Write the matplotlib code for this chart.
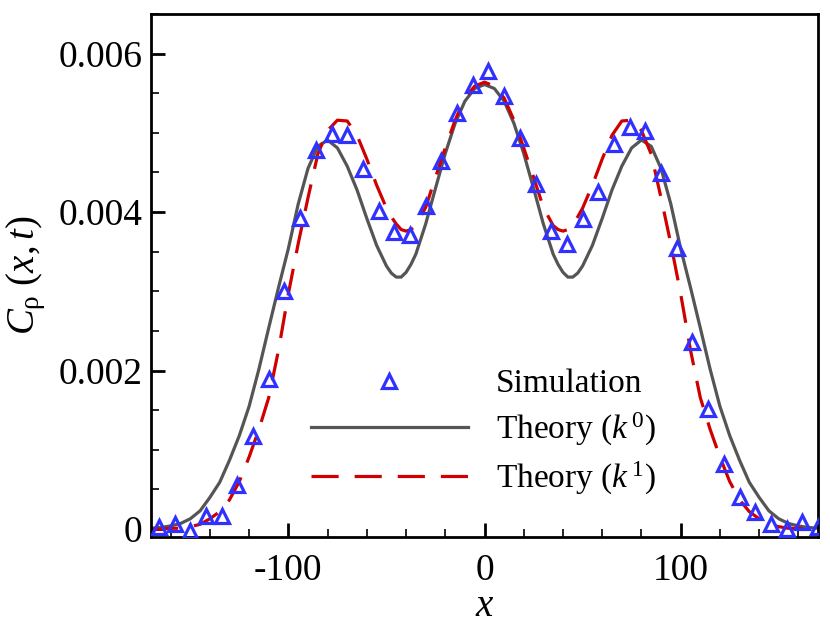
import matplotlib
matplotlib.use('Agg')
import matplotlib.pyplot as plt
from matplotlib.ticker import MultipleLocator

plt.rcParams['font.family'] = ['Liberation Serif', 'DejaVu Serif']
plt.rcParams['mathtext.fontset'] = 'custom'
plt.rcParams['mathtext.rm'] = 'Liberation Serif'
plt.rcParams['mathtext.it'] = 'Liberation Serif:italic'

# theory curves, read every 5 units of x (finer around the minima)
x_theory = [-170, -165, -160, -155, -150, -145, -140, -135, -130, -125, -120,
            -115, -110, -105, -100, -95, -90, -85, -80, -75, -70, -65, -60, -55,
            -50, -47.5, -45, -42.5, -40, -37.5, -35, -30, -25, -20, -15, -10, -5,
            0, 5, 10, 15, 20, 25, 30, 35, 37.5, 40, 42.5, 45, 47.5, 50, 55, 60,
            65, 70, 75, 80, 85, 90, 95, 100, 105, 110, 115, 120, 125, 130, 135,
            140, 145, 150, 155, 160, 165, 170]
c_k0 = [0.00001, 0.00002, 0.00004, 0.00007, 0.00013, 0.00023, 0.00040, 0.00059,
        0.00087, 0.00118, 0.00155, 0.00202, 0.00254, 0.00305, 0.00354, 0.00410,
        0.00455, 0.00483, 0.00491, 0.00481, 0.00458, 0.00428, 0.00392, 0.00358,
        0.00332, 0.00323, 0.00318, 0.00318, 0.00324, 0.00334, 0.00347, 0.00385,
        0.00430, 0.00474, 0.00512, 0.00540, 0.00556,
        0.00561,
        0.00556, 0.00540, 0.00512, 0.00474, 0.00430, 0.00385, 0.00347, 0.00334,
        0.00324, 0.00318, 0.00318, 0.00323, 0.00332, 0.00358, 0.00392, 0.00428,
        0.00458, 0.00481, 0.00491, 0.00483, 0.00455, 0.00410, 0.00354, 0.00305,
        0.00254, 0.00202, 0.00155, 0.00118, 0.00087, 0.00059, 0.00040, 0.00023,
        0.00013, 0.00007, 0.00004, 0.00002, 0.00001]
c_k1 = [0.0, 0.0, 0.00001, 0.00001, 0.00003, 0.00006, 0.00013, 0.00022,
        0.00037, 0.00060, 0.00091, 0.00126, 0.00166, 0.00226, 0.00297, 0.00360,
        0.00418, 0.00473, 0.00503, 0.00516, 0.00515, 0.00497, 0.00467, 0.00434,
        0.00405, 0.00394, 0.00385, 0.00378, 0.00376, 0.00378, 0.00383, 0.00406,
        0.00444, 0.00481, 0.00516, 0.00544, 0.00559,
        0.00564,
        0.00559, 0.00544, 0.00516, 0.00481, 0.00444, 0.00406, 0.00383, 0.00378,
        0.00376, 0.00378, 0.00385, 0.00394, 0.00405, 0.00434, 0.00467, 0.00497,
        0.00515, 0.00516, 0.00503, 0.00473, 0.00418, 0.00360, 0.00297, 0.00226,
        0.00166, 0.00126, 0.00091, 0.00060, 0.00037, 0.00022, 0.00013, 0.00006,
        0.00003, 0.00001, 0.00001, 0.0, 0.0]

# simulation points
x_sim = list(range(-166, 171, 8))
c_sim = [0.00003, 0.00007, -0.00003, 0.00016, 0.00016, 0.00055, 0.00118, 0.00190,
         0.00300, 0.00392, 0.00479, 0.00498, 0.00497, 0.00454, 0.00401, 0.00375,
         0.00371, 0.00408, 0.00465, 0.00525, 0.00561, 0.00578, 0.00546, 0.00493,
         0.00435, 0.00376, 0.00360, 0.00391, 0.00425, 0.00486, 0.00507, 0.00502,
         0.00449, 0.00355, 0.00236, 0.00151, 0.00082, 0.00040, 0.00021, 0.00006,
         0.00000, 0.00009, 0.00002]

fig = plt.figure(figsize=(8.3, 6.37), dpi=100)
ax = fig.add_axes([0.182, 0.157, 0.8035, 0.821])

ax.plot(x_sim, c_sim, linestyle='none', marker='^', markersize=10,
        markerfacecolor='none', markeredgecolor='#3030ff', markeredgewidth=2.3,
        label='Simulation', zorder=3)
ax.plot(x_theory, c_k0, color='#555555', linewidth=2.3, label=r'Theory $\mathit{(k^{\,0})}$')
ax.plot(x_theory, c_k1, color='#d00000', linewidth=2.3, dashes=(8.5, 5),
        label=r'Theory $\mathit{(k^{\,1})}$')

ax.set_xlim(-170, 170)
ax.set_ylim(-0.0001, 0.0065)
ax.set_xticks([-100, 0, 100])
ax.set_xticklabels(['-100', '0', '100'])
ax.set_yticks([0, 0.002, 0.004, 0.006])
ax.set_yticklabels(['0', '0.002', '0.004', '0.006'])
ax.xaxis.set_minor_locator(MultipleLocator(20))
ax.yaxis.set_minor_locator(MultipleLocator(0.0005))
ax.tick_params(which='both', direction='in', top=False, right=False, labelsize=27)
ax.tick_params(which='major', length=10, width=2)
ax.tick_params(which='minor', length=6, width=1.2)
ax.tick_params(axis='x', pad=12)
ax.tick_params(axis='y', pad=6)
for s in ax.spines.values():
    s.set_linewidth(2)

ax.set_xlabel(r'$x$', fontsize=28, labelpad=0)
ax.set_ylabel(r'$C_{\mathrm{ρ}}\ (x,t)$', fontsize=28, labelpad=8)

ax.legend(loc='upper left', bbox_to_anchor=(311 / 830, 1 - 369 / 637),
          bbox_transform=fig.transFigure, frameon=False, fontsize=24,
          handlelength=4.7, handletextpad=0.85, labelspacing=0.35,
          borderpad=0, borderaxespad=0)

fig.savefig('out.png', dpi=100)
